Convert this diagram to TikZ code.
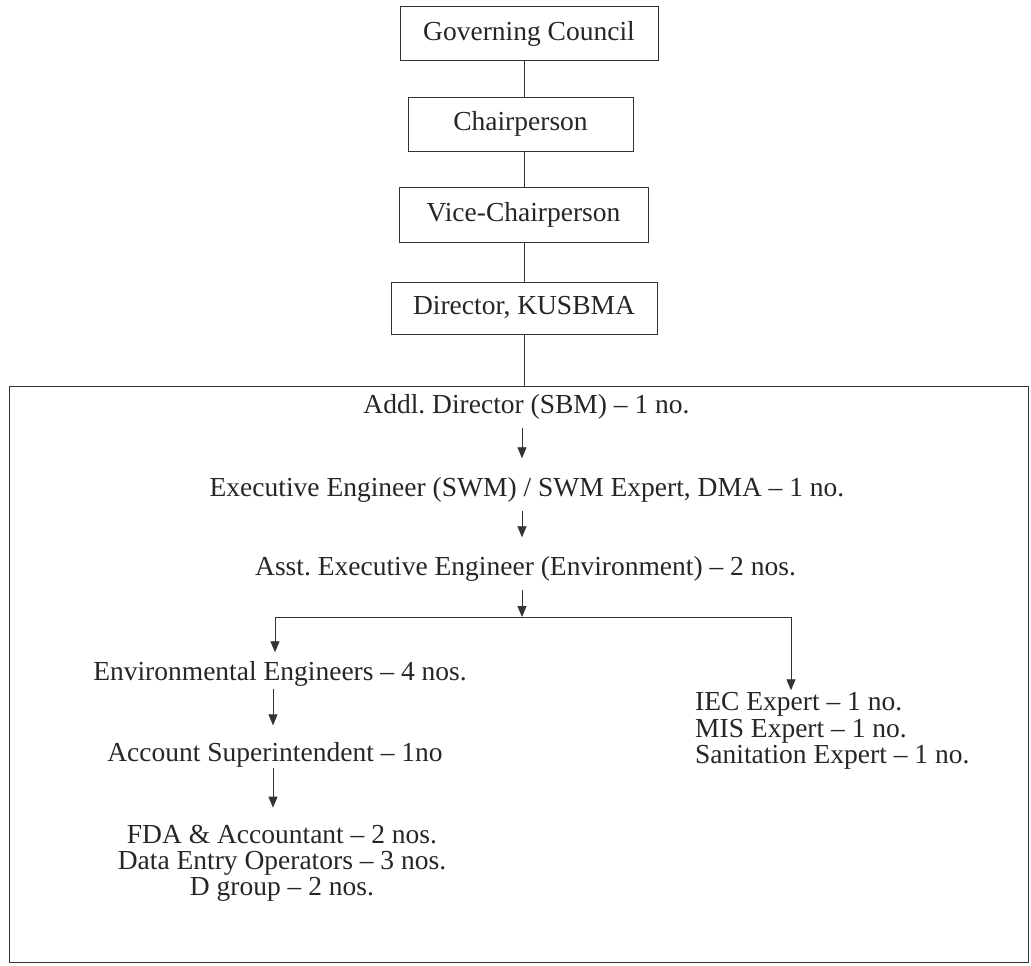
\documentclass[tikz,border=0pt]{standalone}
\usepackage{fontspec}
\setmainfont{Liberation Serif}
\usetikzlibrary{arrows.meta}
\begin{document}
\begin{tikzpicture}[x=1pt,y=-1pt,
  font=\fontsize{27.5}{26.4}\selectfont,
  orgbox/.style={draw=black!80, line width=1pt, inner sep=0pt, text=black!85},
  lbl/.style={inner sep=0pt, text=black!85},
  conn/.style={line width=0.9pt, draw=black!80},
  arr/.style={conn, -{Triangle[length=11pt,width=9pt]}}]
\useasboundingbox (0,0) rectangle (1031,966);
% top boxes
\node[orgbox, minimum width=258pt, minimum height=54pt] (gc) at (529,34) {Governing Council};
\node[orgbox, minimum width=225pt, minimum height=54pt] (ch) at (520.5,124) {Chairperson};
\node[orgbox, minimum width=249pt, minimum height=55pt] (vc) at (523.5,214.5) {Vice-Chairperson};
\node[orgbox, minimum width=266pt, minimum height=52pt] (dir) at (524,308) {Director, KUSBMA};
% panel
\node[draw=black!80, line width=1pt, minimum width=1019pt, minimum height=576pt, inner sep=0pt] (panel) at (518.5,674) {};
\draw[conn] (gc.south -| dir.north) -- (ch.north -| dir.north);
\draw[conn] (ch.south -| dir.north) -- (vc.north -| dir.north);
\draw[conn] (vc.south -| dir.north) -- (dir.north);
\draw[conn] (dir.south) -- (dir.south |- panel.north);
% texts
\node[lbl] (addl) at (526.5,407) {Addl.\ Director (SBM) -- 1 no.};
\node[lbl] (exec) at (527,490) {Executive Engineer (SWM) / SWM Expert, DMA -- 1 no.};
\node[lbl] (asst) at (525.5,569) {Asst.\ Executive Engineer (Environment) -- 2 nos.};
\node[lbl] (env) at (280,674) {Environmental Engineers -- 4 nos.};
\node[lbl] (acct) at (275,755) {Account Superintendent -- 1no};
\node[lbl, align=center, font=\fontsize{27.5}{26}\selectfont] (fda) at (282,863) {FDA \& Accountant -- 2 nos.\\Data Entry Operators -- 3 nos.\\D group -- 2 nos.};
\node[lbl, align=left, anchor=west, font=\fontsize{27.5}{26.5}\selectfont] (iec) at (695,731) {IEC Expert -- 1 no.\\MIS Expert -- 1 no.\\Sanitation Expert -- 1 no.};
% connectors
\coordinate (axis) at (522,400);
\coordinate (split) at (522,617);
\coordinate (lt) at (275,617);
\coordinate (rt) at (791,617);
\coordinate (lax) at (273,700);
\draw[arr, shorten <=8pt, shorten >=19pt] (addl.south -| axis) -- (exec.north -| axis);
\draw[arr, shorten <=8pt, shorten >=19pt] (exec.south -| axis) -- (asst.north -| axis);
\draw[arr, shorten <=8pt] (asst.south -| axis) -- (split);
\draw[conn] (lt) -- (rt);
\draw[arr, shorten >=9pt] (lt) -- (env.north -| lt);
\draw[arr, shorten >=2pt] (rt) -- (iec.north -| rt);
\draw[arr, shorten <=2pt, shorten >=17pt] (env.south -| lax) -- (acct.north -| lax);
\draw[arr, shorten >=17pt] (acct.south -| lax) -- (fda.north -| lax);
\end{tikzpicture}
\end{document}
